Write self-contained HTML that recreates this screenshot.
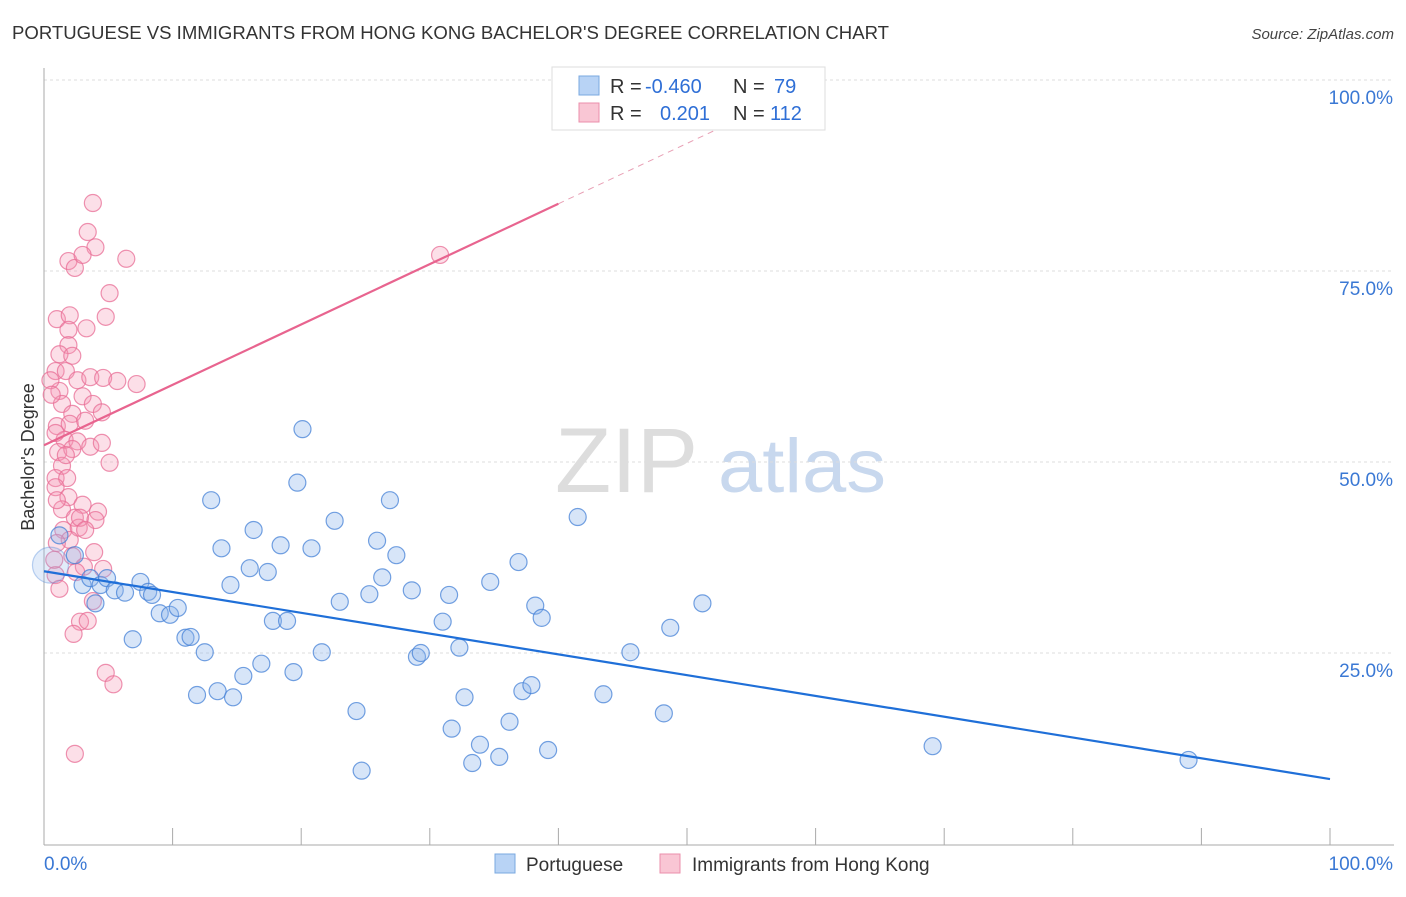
<!DOCTYPE html>
<html><head><meta charset="utf-8"><style>
body{margin:0;background:#fff;font-family:"Liberation Sans",sans-serif;}
svg text{font-family:"Liberation Sans",sans-serif;}
</style></head><body>
<svg id="chart" width="1406" height="892" viewBox="0 0 1406 892" xmlns="http://www.w3.org/2000/svg">
<text x="12" y="39" font-size="18" fill="#333" textLength="877" lengthAdjust="spacingAndGlyphs">PORTUGUESE VS IMMIGRANTS FROM HONG KONG BACHELOR'S DEGREE CORRELATION CHART</text>
<text x="1394" y="39" font-size="15" fill="#444" text-anchor="end" font-style="italic">Source: ZipAtlas.com</text>
<g><text x="555" y="492" font-size="92" fill="#ddd" font-family="Liberation Serif">ZIP</text><text x="718" y="492" font-size="76" fill="#c8d8ee" textLength="168" lengthAdjust="spacingAndGlyphs">atlas</text></g>
<g id="grid"></g>
<g id="axes"></g>
<g id="pts"></g>
<g id="trend"></g>
<text transform="translate(34,457) rotate(-90)" font-size="18" fill="#333" text-anchor="middle">Bachelor's Degree</text>
<g>
<rect x="552" y="67" width="273" height="63" fill="#fff" stroke="#ddd"/>
<rect x="579" y="76" width="20" height="19" fill="#b8d3f5" stroke="#7aa8e0"/>
<rect x="579" y="103" width="20" height="19" fill="#f9c6d4" stroke="#eb8fab"/>
<text x="610" y="93" font-size="20" fill="#333">R =</text><text x="645" y="93" font-size="20" fill="#2f6fd6">-0.460</text>
<text x="733" y="93" font-size="20" fill="#333">N =</text><text x="774" y="93" font-size="20" fill="#2f6fd6">79</text>
<text x="610" y="120" font-size="20" fill="#333">R =</text><text x="660" y="120" font-size="20" fill="#2f6fd6">0.201</text>
<text x="733" y="120" font-size="20" fill="#333">N =</text><text x="770" y="120" font-size="20" fill="#2f6fd6">112</text>
</g>
<g>
<rect x="495" y="854" width="20" height="19" fill="#b8d3f5" stroke="#7aa8e0"/>
<text x="526" y="871" font-size="19" fill="#333">Portuguese</text>
<rect x="660" y="854" width="20" height="19" fill="#f9c6d4" stroke="#eb8fab"/>
<text x="692" y="871" font-size="19" fill="#333">Immigrants from Hong Kong</text>
</g>
</svg>
<script>
const blueX=[0.5,1.2,2.4,3.0,3.6,4.4,4.0,4.9,5.5,6.3,7.5,8.1,8.4,6.9,9.0,9.8,10.4,11.0,11.4,11.9,12.5,13.0,13.5,13.8,14.5,14.7,15.5,16.0,16.3,16.9,17.4,17.8,18.4,18.9,19.4,19.7,20.1,20.8,21.6,22.6,23.0,24.3,24.7,25.3,25.9,26.3,26.9,27.4,28.6,29.0,29.3,31.0,31.5,31.7,32.3,32.7,33.9,33.3,34.7,35.4,36.2,36.9,37.2,37.9,38.2,38.7,39.2,41.5,43.5,45.6,48.2,48.7,51.2,69.1,89.0];
const blueY=[36.5,40.4,37.8,33.9,34.8,33.9,31.5,34.8,33.2,32.9,34.3,33.0,32.6,26.8,30.2,30.0,30.9,27.0,27.1,19.5,25.1,45.0,20.0,38.7,33.9,19.2,22.0,36.1,41.1,23.6,35.6,29.2,39.1,29.2,22.5,47.3,54.3,38.7,25.1,42.3,31.7,17.4,9.6,32.7,39.7,34.9,45.0,37.8,33.2,24.5,25.0,29.1,32.6,15.1,25.7,19.2,13.0,10.6,34.3,11.4,16.0,36.9,20.0,20.8,31.2,29.6,12.3,42.8,19.6,25.1,17.1,28.3,31.5,12.8,11.0];
const pinkX=[3.8,3.4,4.0,1.9,2.4,3.0,6.4,5.1,1.0,2.0,4.8,1.9,3.3,1.9,1.2,2.2,0.9,1.7,2.6,3.6,4.6,5.7,7.2,1.2,3.0,1.4,2.2,3.8,4.5,1.0,2.0,3.2,1.6,2.6,3.6,4.5,1.1,2.2,1.4,0.9,1.8,5.1,0.9,1.9,3.0,4.2,1.4,2.4,1.5,2.7,2.0,1.0,3.9,2.2,4.6,3.1,0.9,1.2,3.8,2.8,2.3,3.4,4.8,5.4,2.4,30.8,0.5,0.6,0.9,1.7,1.0,2.8,4.0,3.2,0.8,2.5];
const pinkY=[83.9,80.1,78.1,76.3,75.4,77.1,76.6,72.1,68.7,69.2,69.0,67.3,67.5,65.3,64.1,63.9,61.9,61.9,60.7,61.1,61.0,60.6,60.2,59.3,58.6,57.6,56.3,57.6,56.5,54.7,55.0,55.4,52.9,52.7,52.0,52.5,51.3,51.7,49.5,47.9,47.9,49.9,46.7,45.4,44.4,43.5,43.8,42.7,41.1,41.4,39.8,39.4,38.2,37.7,36.0,36.3,35.2,33.4,31.8,29.1,27.5,29.2,22.4,20.9,11.8,77.1,60.7,58.8,53.8,50.9,45.0,42.7,42.4,41.1,37.2,35.6];
const yTicks=[25,50,75,100];
const yTickLabels=["25.0%","50.0%","75.0%","100.0%"];
const xTickLabels=["0.0%","100.0%"];
const blueTrend=[35.7,8.5];
const pinkTrend=[52.2,0.79];
const X=v=>44+v*12.86, Y=v=>844-v*7.64;
const NS="http://www.w3.org/2000/svg";
function mk(p,t,a){const e=document.createElementNS(NS,t);for(const k in a)e.setAttribute(k,a[k]);p.appendChild(e);return e;}
const grid=document.getElementById('grid'),axes=document.getElementById('axes');
yTicks.forEach((t,i)=>{
 const l=mk(grid,'line',{x1:44,x2:1394,y1:Y(t),y2:Y(t),stroke:'#ddd','stroke-dasharray':'3,3'});
 
 
 const tx=mk(axes,'text',{x:1393,y:Y(t)+24,'font-size':19,fill:'#3a78d4','text-anchor':'end'});tx.textContent=yTickLabels[i];
 
 
});
mk(axes,'line',{x1:44,x2:44,y1:68,y2:845,stroke:'#aaa'});
mk(axes,'line',{x1:44,x2:1394,y1:845,y2:845,stroke:'#aaa'});
for(let i=1;i<=10;i++){mk(axes,'line',{x1:44+i*128.6,x2:44+i*128.6,y1:828,y2:845,stroke:'#aaa'});}
const t0=mk(axes,'text',{x:44,y:870,'font-size':19,fill:'#3a78d4'});t0.textContent=xTickLabels[0];


const t1=mk(axes,'text',{x:1393,y:870,'font-size':19,fill:'#3a78d4','text-anchor':'end'});t1.textContent=xTickLabels[1];


const pts=document.getElementById('pts');
pinkX.forEach((x,i)=>{const c=mk(pts,'circle',{cx:X(x),cy:Y(pinkY[i]),r:8.5,fill:'rgba(244,150,180,0.3)',stroke:'rgba(232,110,150,0.75)','stroke-width':1.2});
 
 });
blueX.forEach((x,i)=>{const c=mk(pts,'circle',{cx:X(x),cy:Y(blueY[i]),r:i==0?18:8.5,fill:i==0?'rgba(140,180,235,0.25)':'rgba(140,180,235,0.35)',stroke:i==0?'rgba(70,130,215,0.35)':'rgba(70,130,215,0.75)','stroke-width':1.2});
 
 });
const tr=document.getElementById('trend');
const bl=mk(tr,'line',{x1:X(0),y1:Y(blueTrend[0]),x2:X(100),y2:Y(blueTrend[1]),stroke:'#1f6fd8','stroke-width':2.2});


const pl=mk(tr,'line',{x1:X(0),y1:Y(pinkTrend[0]),x2:X(40),y2:Y(pinkTrend[0]+40*pinkTrend[1]),stroke:'#e8648f','stroke-width':2.2});


const pd=mk(tr,'line',{x1:X(40),y1:Y(pinkTrend[0]+40*pinkTrend[1]),x2:X(58),y2:Y(pinkTrend[0]+58*pinkTrend[1]),stroke:'#e8a0b5','stroke-width':1,'stroke-dasharray':'6,5'});


</script>
</body></html>
